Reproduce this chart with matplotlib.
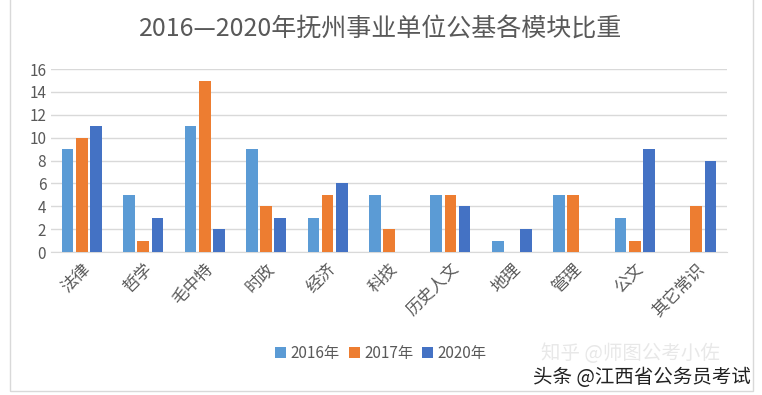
import matplotlib
matplotlib.use("Agg")
import matplotlib.pyplot as plt
import numpy as np
from matplotlib.patches import Rectangle

plt.rcParams['font.family'] = ['Noto Sans CJK SC', 'DejaVu Sans']

categories = ["法律", "哲学", "毛中特", "时政", "经济", "科技", "历史人文", "地理", "管理", "公文", "其它常识"]
v2016 = [9, 5, 11, 9, 3, 5, 5, 1, 5, 3, 0]
v2017 = [10, 1, 15, 4, 5, 2, 5, 0, 5, 1, 4]
v2020 = [11, 3, 2, 3, 6, 0, 4, 2, 0, 9, 8]
series_names = ["2016年", "2017年", "2020年"]
colors = ["#5B9BD5", "#ED7D31", "#4472C4"]

fig = plt.figure(figsize=(7.62, 3.95), dpi=100)
ax = fig.add_axes([0.067, 0.362, 0.887, 0.463])

# chart border
fig.patches.append(Rectangle((0.013, 0.01), 0.975, 1.2, transform=fig.transFigure,
                             fill=False, edgecolor="#d9d9d9", linewidth=1))

x = np.arange(len(categories))
w = 0.19
gap = 0.04
for i, (vals, name, c) in enumerate(zip([v2016, v2017, v2020], series_names, colors)):
    ax.bar(x + (i - 1) * (w + gap), vals, width=w, color=c, label=name, zorder=3)

ax.set_xlim(-0.5, len(categories) - 0.5)
ax.set_ylim(0, 16)
ax.set_yticks(range(0, 17, 2))
ax.grid(axis="y", color="#d9d9d9", linewidth=1, zorder=0)
for s in ["top", "right", "left"]:
    ax.spines[s].set_visible(False)
ax.spines["bottom"].set_color("#d9d9d9")
ax.tick_params(axis="both", length=0, labelsize=11, colors="#595959")
ax.tick_params(axis="x", labelsize=12, pad=6)
ax.set_xticks(x)
ax.set_xticklabels(categories, rotation=45, ha="right", rotation_mode="anchor")

fig.text(0.5, 0.925, "2016—2020年抚州事业单位公基各模块比重", ha="center", va="center",
         fontsize=18, color="#595959")

fig.legend(loc="center", bbox_to_anchor=(0.5, 0.105), ncol=3, frameon=False,
           fontsize=11, handlelength=0.7, handleheight=0.7, handletextpad=0.3,
           columnspacing=0.6, labelcolor="#595959")

fig.text(0.71, 0.105, "知乎 @师图公考小佐", fontsize=14, color="#e8e8e8", va="center")
fig.text(0.985, 0.045, "头条 @江西省公务员考试", fontsize=14, color="#222222",
         ha="right", va="center")

fig.savefig("out.png", dpi=100)
